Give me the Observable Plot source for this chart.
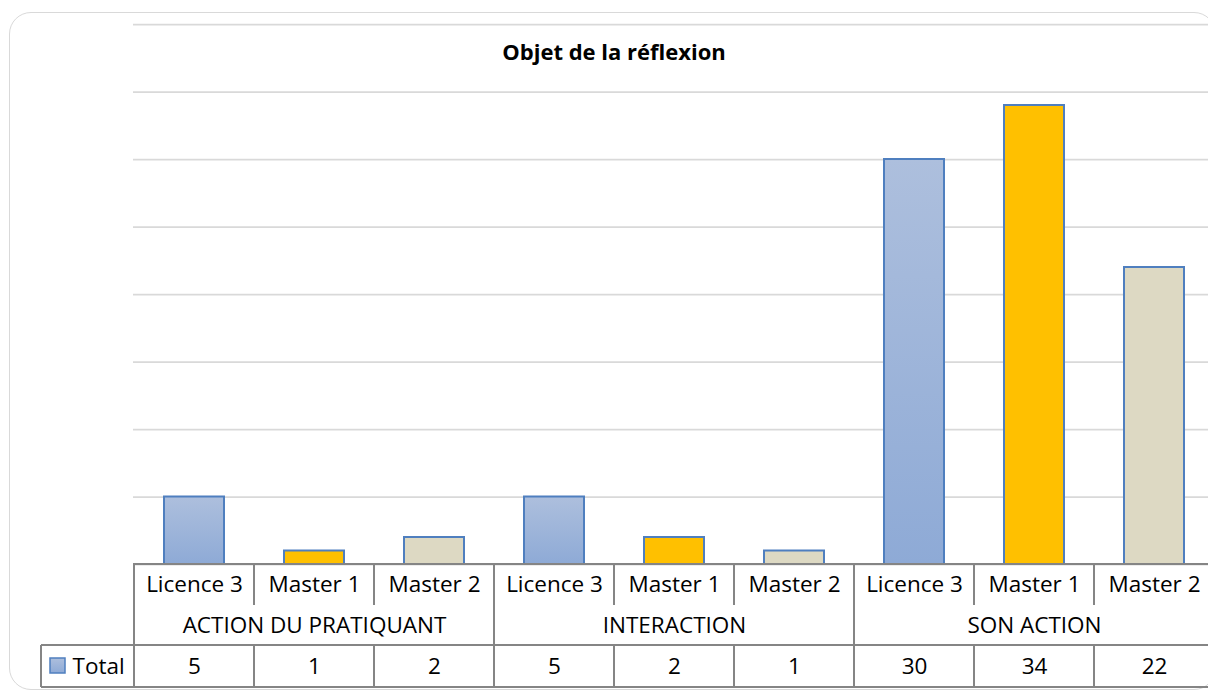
<!DOCTYPE html>
<html>
<head>
<meta charset="utf-8">
<script src="https://cdn.jsdelivr.net/npm/d3@7"></script>
<script src="https://cdn.jsdelivr.net/npm/@observablehq/plot@0.6"></script>
<style>
  html, body { margin: 0; padding: 0; background: #fff; overflow: hidden; }
  #wrap { position: relative; width: 1208px; height: 693px; overflow: hidden; font-family: "Open Sans", Lato, sans-serif; }
  #frame { position: absolute; left: 9px; top: 12px; width: 1207px; height: 678px; border: 1.5px solid #d9d9d9; border-radius: 22px; box-sizing: border-box; }
  #title { position: absolute; left: 0; width: 1228px; top: 37px; text-align: center; font-weight: bold; font-size: 22px; color: #000; line-height: 28px; }
  #chart { position: absolute; left: 0; top: 0; width: 1230px; height: 693px; }
  #chart svg { max-width: none !important; }
</style>
</head>
<body>
<svg width="0" height="0" style="position:absolute">
  <defs>
    <linearGradient id="gradL3" x1="0" y1="0" x2="0" y2="1">
      <stop offset="0" stop-color="#adbfdd"/>
      <stop offset="1" stop-color="#8eaad6"/>
    </linearGradient>
  </defs>
</svg>
<div id="wrap">
  <div id="frame"></div>
  <div id="title">Objet de la réflexion</div>
  <div id="chart"></div>
</div>
<script>
// ---- data ----
const groups = ["ACTION DU PRATIQUANT", "INTERACTION", "SON ACTION"];
const seriesNames = ["Licence 3", "Master 1", "Master 2"];
const actionDuPratiquant = [5, 1, 2];
const interaction = [5, 2, 1];
const sonAction = [30, 34, 22];
const legendLabel = "Total";

const groupValues = [actionDuPratiquant, interaction, sonAction];
const data = groups.flatMap((g, gi) =>
  seriesNames.map((s, si) => ({group: g, series: s, key: g + "|" + s, value: groupValues[gi][si]}))
);
const keys = data.map(d => d.key);

const lineColor = "#858585";

function tableLines(index, scales, values, dims) {
  const x = scales.x;
  const step = x.step ? x.step() : (dims.width - dims.marginLeft - dims.marginRight) / keys.length;
  const bw = x.bandwidth ? x.bandwidth() : step / 2;
  const left = dims.marginLeft;
  const right = dims.width - dims.marginRight;
  const y0 = dims.height - dims.marginBottom;
  const y1 = y0 + 41, y2 = y0 + 81, y3 = y0 + 123;
  const legendLeft = left - 92;
  const g = d3.create("svg:g");
  const ln = (xa, ya, xb, yb) => g.append("line")
    .attr("x1", xa).attr("y1", ya).attr("x2", xb).attr("y2", yb)
    .attr("stroke", lineColor).attr("stroke-width", 2);
  ln(left, y0, right, y0);
  ln(legendLeft, y2, right, y2);
  ln(legendLeft, y3, right, y3);
  ln(legendLeft, y2, legendLeft, y3);
  keys.forEach((k, i) => {
    const bx = x(k) + bw / 2 - step / 2;
    if (i % 3 === 0) ln(bx, y0, bx, y3);
    else { ln(bx, y0, bx, y1); ln(bx, y2, bx, y3); }
  });
  const last = x(keys[keys.length - 1]) + bw / 2 + step / 2;
  ln(last, y0, last, y3);
  // legend key
  g.append("rect").attr("x", legendLeft + 9).attr("y", y2 + 13).attr("width", 15).attr("height", 15)
    .attr("fill", "url(#gradL3)").attr("stroke", "#4f7fbf").attr("stroke-width", 1.5);
  return g.node();
}

const chart = Plot.plot({
  width: 1230,
  height: 693,
  marginLeft: 133,
  marginRight: 15,
  marginTop: 24,
  marginBottom: 129,
  style: {fontFamily: "'Open Sans', Lato, sans-serif", fontSize: "22.5px", color: "#000", background: "transparent", maxWidth: "none"},
  x: {domain: keys, paddingInner: 0.5, paddingOuter: 0.25, axis: null},
  y: {domain: [0, 40], axis: null},
  color: {domain: seriesNames, range: ["url(#gradL3)", "#ffc000", "#ddd9c3"]},
  marks: [
    Plot.gridY({ticks: 8, stroke: "#d9d9d9", strokeOpacity: 1, strokeWidth: 1.75}),
    Plot.barY(data, {x: "key", y: "value", fill: "series", stroke: "#4f7fbf", strokeWidth: 2}),
    tableLines,
    Plot.text(data, {x: "key", text: "series", frameAnchor: "bottom", lineAnchor: "middle", dy: 20, fill: "#000"}),
    Plot.text(data.filter(d => d.series === seriesNames[1]), {x: "key", text: "group", frameAnchor: "bottom", lineAnchor: "middle", dy: 61, fill: "#000"}),
    Plot.text(data, {x: "key", text: d => String(d.value), frameAnchor: "bottom", lineAnchor: "middle", dy: 102, fill: "#000"}),
    Plot.text([legendLabel], {frameAnchor: "bottom-left", lineAnchor: "middle", dx: -61, dy: 102, textAnchor: "start", fill: "#000"})
  ]
});
document.getElementById("chart").appendChild(chart);
</script>
</body>
</html>
